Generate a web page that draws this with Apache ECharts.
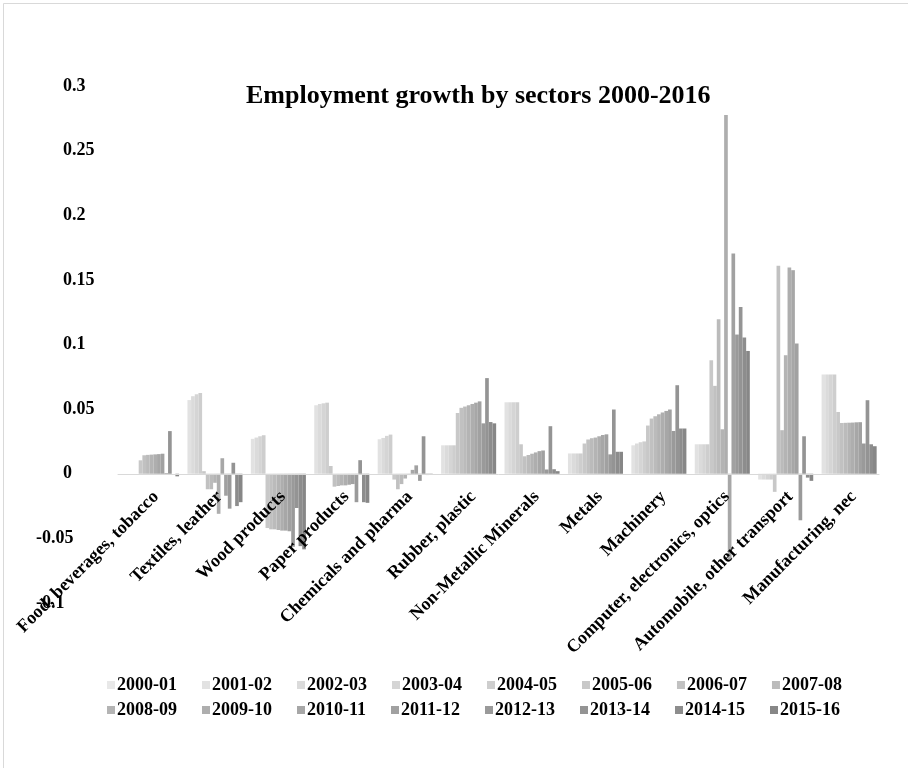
<!DOCTYPE html>
<html>
<head>
<meta charset="utf-8">
<script src="https://cdn.jsdelivr.net/npm/echarts@6/dist/echarts.min.js"></script>
<style>
html,body{margin:0;padding:0;background:#fff;}
#main{width:908px;height:768px;}
</style>
</head>
<body>
<div id="main"></div>
<script>
// Categories (sectors)
var sectors = ['Food, beverages, tobacco', 'Textiles, leather', 'Wood products', 'Paper products',
  'Chemicals and pharma', 'Rubber, plastic', 'Non-Metallic Minerals', 'Metals', 'Machinery',
  'Computer, electronics, optics', 'Automobile, other transport', 'Manufacturing, nec'];

// Series names (years)
var years = ['2000-01', '2001-02', '2002-03', '2003-04', '2004-05', '2005-06', '2006-07', '2007-08',
  '2008-09', '2009-10', '2010-11', '2011-12', '2012-13', '2013-14', '2014-15', '2015-16'];

// Values per sector, one per year (2000-01 ... 2015-16)
var food      = [0, 0, 0, 0, 0, 0.0104, 0.0143, 0.0146, 0.0148, 0.015, 0.0152, 0.0155, 0.0005, 0.033, 0, -0.002];
var textiles  = [0, 0.057, 0.060, 0.0615, 0.0625, 0.002, -0.012, -0.012, -0.007, -0.031, 0.012, -0.017, -0.027, 0.0085, -0.025, -0.022];
var wood      = [0, 0.027, 0.028, 0.029, 0.0298, -0.042, -0.043, -0.043, -0.0435, -0.044, -0.044, -0.0445, -0.0565, -0.0265, -0.056, -0.0585];
var paper     = [0, 0.053, 0.054, 0.0545, 0.055, 0.006, -0.010, -0.0095, -0.009, -0.009, -0.0085, -0.008, -0.022, 0.0105, -0.022, -0.0225];
var chemicals = [0, 0.0267, 0.0277, 0.0293, 0.0303, -0.0045, -0.012, -0.008, -0.0037, -0.001, 0.003, 0.0065, -0.0055, 0.029, -0.001, -0.0008];
var rubber    = [0, 0.022, 0.022, 0.022, 0.022, 0.047, 0.051, 0.052, 0.053, 0.054, 0.055, 0.056, 0.039, 0.074, 0.040, 0.039];
var nonmetal  = [0, 0.0553, 0.0553, 0.0553, 0.0553, 0.0228, 0.0135, 0.0145, 0.0155, 0.0165, 0.0175, 0.018, 0.0033, 0.0368, 0.0035, 0.002];
var metals    = [0, 0.0157, 0.0157, 0.0157, 0.0157, 0.0234, 0.0265, 0.0275, 0.028, 0.029, 0.030, 0.0305, 0.015, 0.0497, 0.017, 0.017];
var machinery = [0, 0.022, 0.0234, 0.0244, 0.025, 0.0373, 0.0427, 0.0445, 0.046, 0.0474, 0.0486, 0.0497, 0.0331, 0.0685, 0.035, 0.035];
var computer  = [0, 0.0228, 0.0228, 0.0228, 0.0228, 0.0878, 0.068, 0.1196, 0.0344, 0.2775, -0.067, 0.1704, 0.1077, 0.129, 0.1054, 0.095];
var auto      = [0, -0.0045, -0.0045, -0.0045, -0.0045, -0.014, 0.161, 0.0337, 0.0917, 0.1596, 0.1575, 0.1008, -0.036, 0.029, -0.003, -0.0055];
var manuf     = [0, 0.0768, 0.0768, 0.0768, 0.0768, 0.0478, 0.0393, 0.0394, 0.0395, 0.0396, 0.0398, 0.0399, 0.0234, 0.0569, 0.0228, 0.0213];

// Y axis ticks
var yMin = -0.1, yMax = 0.3, yStep = 0.05;

var sectorValues = [food, textiles, wood, paper, chemicals, rubber, nonmetal, metals, machinery, computer, auto, manuf];

var FONT = "'Liberation Serif', 'Times New Roman', serif";
function grayFor(i) {
  var v = Math.round(232 - i * 6.5);
  var h = v.toString(16);
  if (h.length < 2) h = '0' + h;
  return '#' + h + h + h;
}

var series = years.map(function (y, j) {
  return {
    name: y,
    type: 'bar',
    barGap: '0%',
    barCategoryGap: '7.4%',
    itemStyle: { color: grayFor(j) },
    data: sectorValues.map(function (arr) { return arr[j]; })
  };
});

var GRID_TOP = 86, GRID_BOTTOM = 165, H = 768;
var plotH = H - GRID_TOP - GRID_BOTTOM;
var zeroOffset = -plotH * (0 - yMin) / (yMax - yMin);

var chart = echarts.init(document.getElementById('main'), null, { renderer: 'canvas' });
var legendText = { fontFamily: FONT, fontWeight: 'bold', fontSize: 18, color: '#000', padding: [0, 0, 0, -3] };
chart.setOption({
  animation: false,
  backgroundColor: '#fff',
  graphic: [{
    type: 'rect', left: 1, top: 1, silent: true,
    shape: { width: 905, height: 765 },
    style: { fill: 'none', stroke: '#d9d9d9', lineWidth: 1 }
  }],
  title: {
    text: 'Employment growth by sectors 2000-2016',
    left: 241, top: 78,
    textStyle: { fontFamily: FONT, fontWeight: 'bold', fontSize: 26, color: '#000' }
  },
  legend: [{
    data: years.slice(0, 8), left: 102, top: 671, itemGap: 25,
    itemWidth: 8, itemHeight: 8, icon: 'rect', textStyle: legendText
  }, {
    data: years.slice(8), left: 102, top: 696, itemGap: 25,
    itemWidth: 8, itemHeight: 8, icon: 'rect', textStyle: legendText
  }],
  grid: { left: 118, right: 29, top: GRID_TOP, bottom: GRID_BOTTOM, containLabel: false, outerBoundsMode: 'none' },
  xAxis: {
    type: 'category',
    data: sectors,
    offset: zeroOffset,
    z: 10,
    axisLine: { onZero: false, lineStyle: { color: '#d9d9d9', width: 1 } },
    axisTick: { show: false },
    axisLabel: {
      interval: 0, rotate: 45, margin: 14,
      align: 'right', verticalAlign: 'top',
      fontFamily: FONT, fontWeight: 'bold', fontSize: 18, color: '#000'
    }
  },
  yAxis: {
    type: 'value',
    min: yMin, max: yMax, interval: yStep,
    axisLine: { show: false },
    axisTick: { show: false },
    splitLine: { show: false },
    axisLabel: {
      align: 'left', margin: 82,
      fontFamily: FONT, fontWeight: 'bold', fontSize: 18, color: '#000',
      formatter: function (v) {
        var s = String(Math.round(v * 100) / 100);
        return v < 0 ? '{n|' + s + '}' : '{p|' + s + '}';
      },
      rich: {
        n: { fontFamily: FONT, fontWeight: 'bold', fontSize: 18, color: '#000' },
        p: { fontFamily: FONT, fontWeight: 'bold', fontSize: 18, color: '#000', padding: [0, 0, 0, 27] }
      }
    }
  },
  series: series
});
</script>
</body>
</html>
